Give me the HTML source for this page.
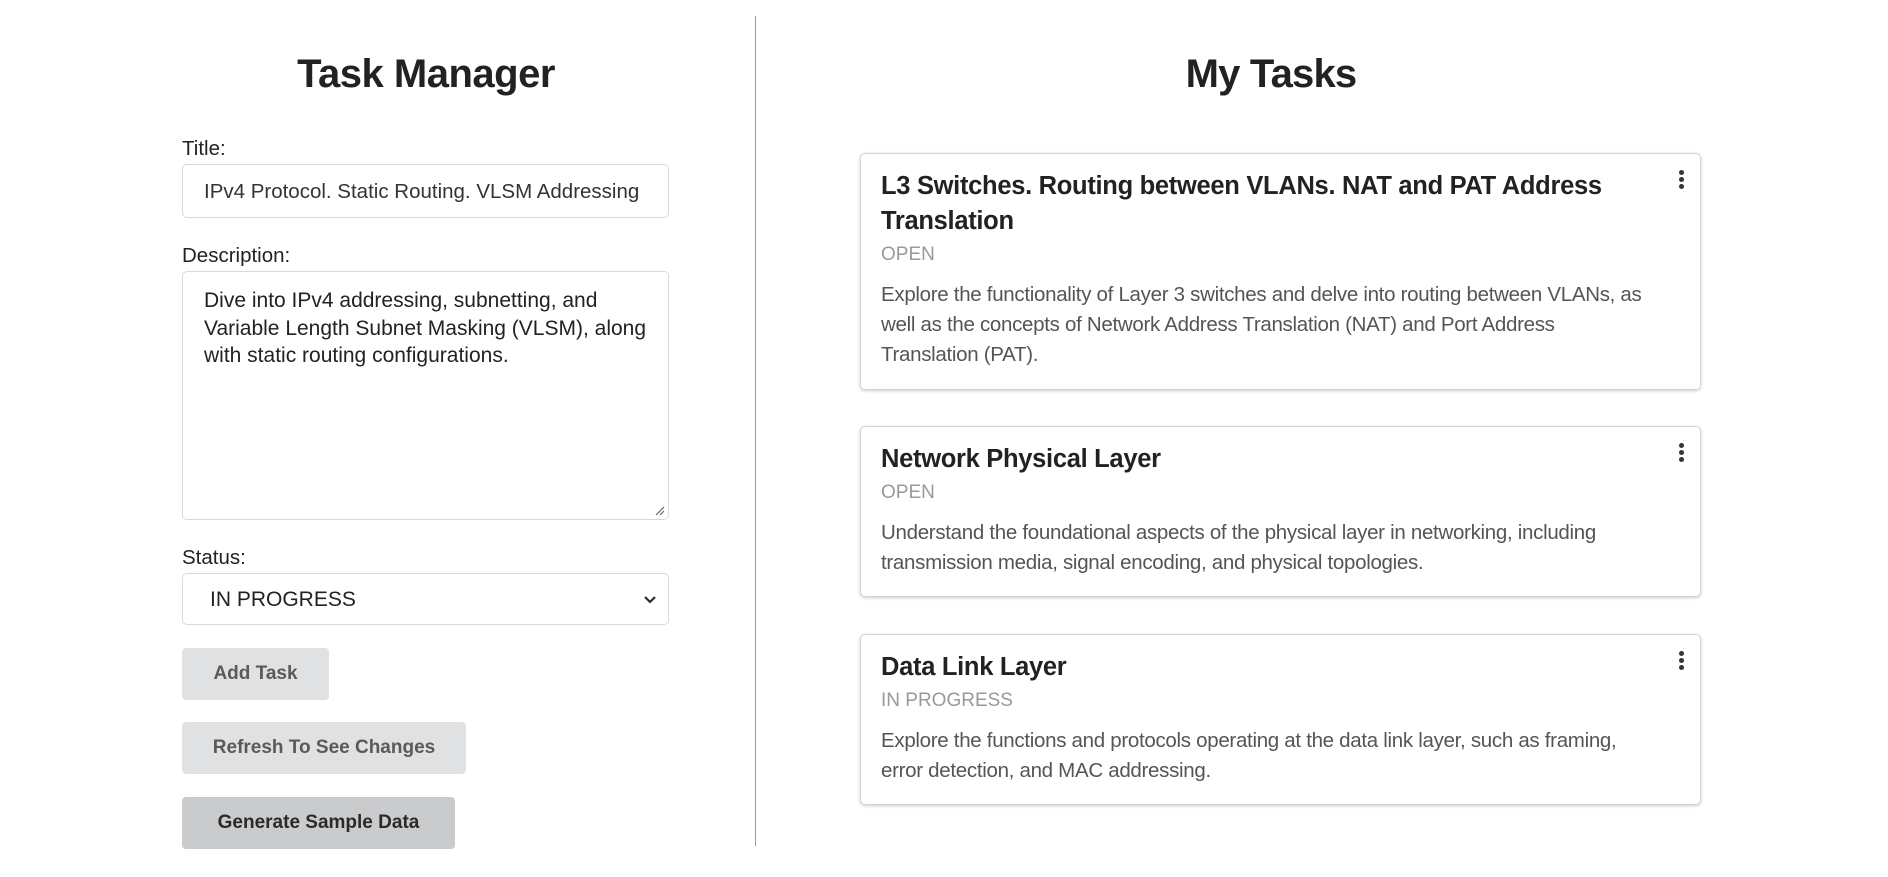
<!DOCTYPE html>
<html><head><meta charset="utf-8"><style>
body{margin:0;width:1888px;height:877px;background:#fff;font-family:"Liberation Sans",sans-serif;color:#222;position:relative;overflow:hidden}
.a{position:absolute;white-space:nowrap}
.box{position:absolute;border:1px solid #d9d9d9;border-radius:5px;box-sizing:border-box;background:#fff}
.lbl{font-size:20.5px;color:#222}
.btn{position:absolute;border-radius:4px;background:#e0e1e2;color:#5a5a5a;font-weight:bold;font-size:19px;display:flex;align-items:center;justify-content:center}
.card{position:absolute;left:860px;width:841px;border:1px solid #d4d4d5;border-radius:5px;box-shadow:0 1px 3px #ccc;box-sizing:border-box}
.ct{position:absolute;left:20px;font-size:25.5px;font-weight:bold;color:#222;line-height:35px;letter-spacing:-0.3px}
.cs{position:absolute;left:20px;font-size:19px;color:#999}
.cd{position:absolute;left:20px;font-size:20.5px;color:#555;line-height:30px;width:772px;letter-spacing:-0.3px}
.dots{position:absolute;right:16px;top:16px;width:5px}
.dots i{display:block;width:5px;height:5px;border-radius:50%;background:#333;margin-bottom:2px}
</style></head><body>
<div class="a" style="left:0;width:852px;text-align:center;top:52px;font-size:40px;font-weight:bold;letter-spacing:-0.5px">Task Manager</div>
<div class="a" style="left:1071px;width:400px;text-align:center;top:52px;font-size:40px;font-weight:bold;letter-spacing:-0.8px">My Tasks</div>
<div style="position:absolute;left:755px;top:16px;width:1px;height:830px;background:#999"></div>

<div class="a lbl" style="left:182px;top:137px">Title:</div>
<div class="box" style="left:182px;top:164px;width:487px;height:54px"><div class="a" style="left:21px;top:15px;font-size:20.5px;color:#333">IPv4 Protocol. Static Routing. VLSM Addressing</div></div>
<div class="a lbl" style="left:182px;top:244px">Description:</div>
<div class="box" style="left:182px;top:271px;width:487px;height:249px"><div class="a" style="left:21px;top:15px;font-size:21px;line-height:27.5px;color:#222;white-space:normal;width:460px">Dive into IPv4 addressing, subnetting, and Variable Length Subnet Masking (VLSM), along with static routing configurations.</div>
<svg style="position:absolute;right:3px;bottom:3px" width="10" height="10"><path d="M1 9 L9 1 M5 9 L9 5" stroke="#666" stroke-width="1.2"/></svg></div>
<div class="a lbl" style="left:182px;top:546px">Status:</div>
<div class="box" style="left:182px;top:573px;width:487px;height:52px"><div class="a" style="left:27px;top:14px;font-size:21px;color:#222">IN PROGRESS</div>
<svg style="position:absolute;right:12px;top:22px" width="12" height="8"><path d="M1 1 L6 6 L11 1" stroke="#222" stroke-width="2" fill="none"/></svg></div>
<div class="btn" style="left:182px;top:648px;width:147px;height:52px">Add Task</div>
<div class="btn" style="left:182px;top:722px;width:284px;height:52px">Refresh To See Changes</div>
<div class="btn" style="left:182px;top:797px;width:273px;height:52px;background:#cacbcd;color:#2a2a2a">Generate Sample Data</div>

<div class="card" style="top:153px;height:237px">
<div class="ct" style="top:15px">L3 Switches. Routing between VLANs. NAT and PAT Address<br>Translation</div>
<div class="cs" style="top:90px">OPEN</div>
<div class="cd" style="top:126px">Explore the functionality of Layer 3 switches and delve into routing between VLANs, as well as the concepts of Network Address Translation (NAT) and Port Address Translation (PAT).</div>
<div class="dots"><i></i><i></i><i></i></div></div>

<div class="card" style="top:426px;height:171px">
<div class="ct" style="top:15px">Network Physical Layer</div>
<div class="cs" style="top:55px">OPEN</div>
<div class="cd" style="top:91px">Understand the foundational aspects of the physical layer in networking, including transmission media, signal encoding, and physical topologies.</div>
<div class="dots"><i></i><i></i><i></i></div></div>

<div class="card" style="top:634px;height:171px">
<div class="ct" style="top:15px">Data Link Layer</div>
<div class="cs" style="top:55px">IN PROGRESS</div>
<div class="cd" style="top:91px">Explore the functions and protocols operating at the data link layer, such as framing, error detection, and MAC addressing.</div>
<div class="dots"><i></i><i></i><i></i></div></div>
</body></html>
